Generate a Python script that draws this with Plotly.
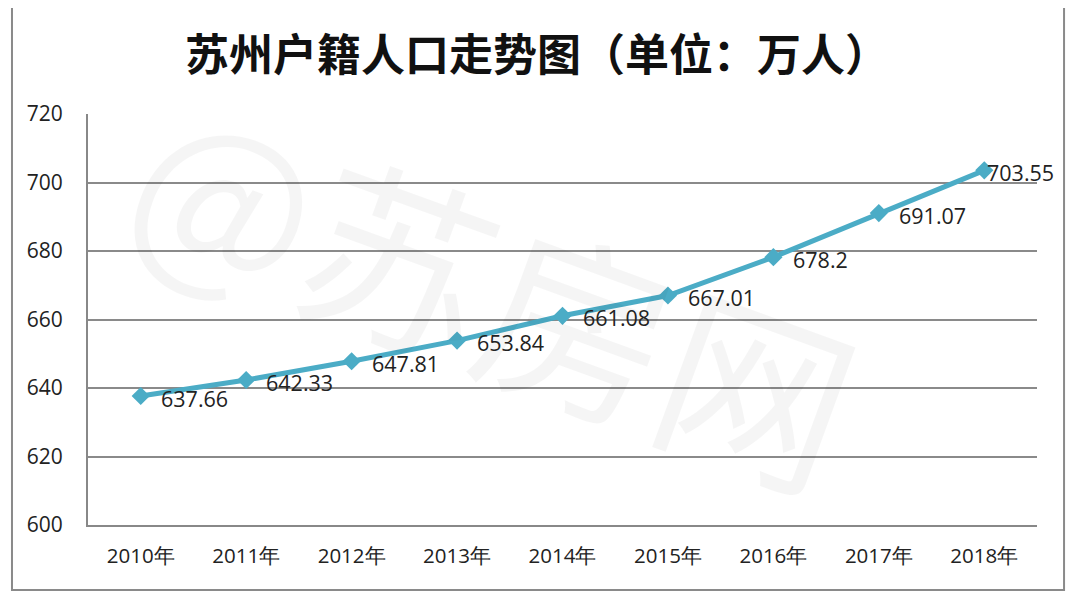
import plotly.graph_objects as go

years = ["2010年", "2011年", "2012年", "2013年", "2014年", "2015年", "2016年", "2017年", "2018年"]
population = [637.66, 642.33, 647.81, 653.84, 661.08, 667.01, 678.2, 691.07, 703.55]
labels = ["637.66", "642.33", "647.81", "653.84", "661.08", "667.01", "678.2", "691.07", "703.55"]
y_ticks = [600, 620, 640, 660, 680, 700, 720]

fig = go.Figure()
fig.add_trace(go.Scatter(
    x=years, y=population,
    mode="lines+markers",
    line=dict(color="#4BACC6", width=5),
    marker=dict(symbol="diamond", size=14, color="#4BACC6"),
    cliponaxis=False,
    hoverinfo="skip",
))

label_annotations = []
for i, (yr, val, lab) in enumerate(zip(years, population, labels)):
    last = i == len(years) - 1
    label_annotations.append(dict(
        x=yr, y=val, xref="x", yref="y", text=lab, showarrow=False,
        xanchor="left", yanchor="middle", xshift=1 if last else 18, yshift=-2,
        font=dict(family="Open Sans, DejaVu Sans, sans-serif", size=21.5, color="#222222"),
    ))

fig.update_layout(
    width=1080, height=602,
    margin=dict(l=80, r=51, t=106, b=85),
    paper_bgcolor="white", plot_bgcolor="white",
    showlegend=False,
    font=dict(family="Open Sans, DejaVu Sans, sans-serif", size=20, color="#222222"),
    xaxis=dict(
        type="category", range=[-0.5, 8.5],
        showgrid=False, showline=True, linecolor="#888888", linewidth=2,
        ticks="", ticklabelstandoff=11,
        tickfont=dict(size=20.5, color="#222222"),
    ),
    yaxis=dict(
        range=[600, 720], tickvals=y_ticks,
        showgrid=True, gridcolor="#8a8a8a", gridwidth=1.5,
        showline=True, linecolor="#888888", linewidth=2,
        zeroline=False, ticks="", ticklabelstandoff=19,
        tickfont=dict(size=21, color="#222222"),
    ),
    annotations=[
        dict(text="苏州户籍人口走势图（单位：万人）", x=0.473, y=1.15, xref="paper", yref="paper",
             showarrow=False, xanchor="center", yanchor="middle",
             font=dict(family="Noto Sans CJK SC", size=44, color="#111111", weight="bold")),
        dict(text="@苏房网", x=0.43, y=0.58, xref="paper", yref="paper", showarrow=False,
             textangle=20, font=dict(family="Noto Sans CJK SC", size=190, color="rgba(0,0,0,0.04)")),
    ] + label_annotations,
    shapes=[
        dict(type="rect", xref="paper", yref="paper", x0=-0.0801, x1=1.0285, y0=-0.158, y1=1.2628,
             line=dict(color="#8a8a8a", width=2), fillcolor="rgba(0,0,0,0)", layer="below"),
    ],
)

fig.write_html("out.html")
